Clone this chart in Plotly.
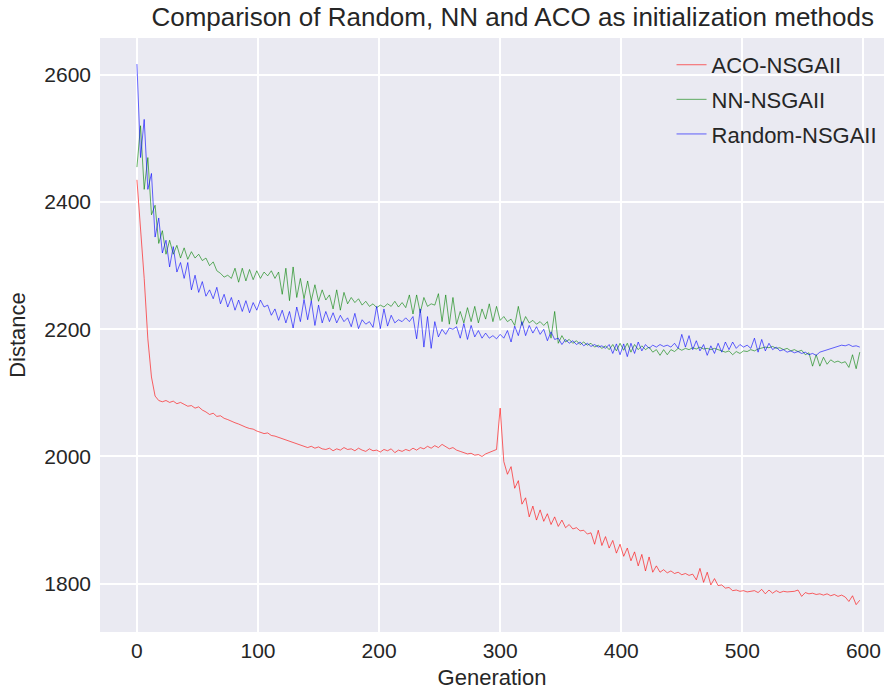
import plotly.graph_objects as go

# generations sampled every 3rd step
generation = list(range(0, 600, 3))

aco_nsgaii = [
    2435, 2360, 2280, 2185, 2125, 2095, 2088, 2086, 2088, 2085,
    2087, 2083, 2085, 2082, 2079, 2080, 2076, 2078, 2073, 2070,
    2066, 2068, 2063, 2064, 2060, 2058, 2055, 2053, 2051, 2048,
    2046, 2044, 2043, 2040, 2038, 2036, 2037, 2033, 2032, 2030,
    2028, 2026, 2024, 2022, 2020, 2018, 2016, 2014, 2016, 2013,
    2015, 2012, 2011, 2013, 2009, 2012, 2010, 2014, 2011, 2012,
    2009, 2013, 2010, 2008, 2012, 2009, 2010, 2007, 2011, 2009,
    2012, 2006, 2010, 2008, 2011, 2009, 2013, 2010, 2014, 2012,
    2016, 2013, 2017, 2014, 2019, 2016, 2012, 2014, 2010, 2008,
    2006, 2004, 2005, 2002, 2003, 2000, 2004, 2006, 2009, 2011,
    2076, 1992, 1972, 1984, 1950, 1962, 1925, 1935, 1905, 1922,
    1900, 1916, 1898, 1910, 1893, 1905, 1890, 1900, 1888, 1893,
    1886, 1888, 1883, 1884, 1878, 1880, 1862, 1884, 1860, 1874,
    1856, 1868, 1848, 1862, 1843, 1856, 1836, 1850, 1828, 1846,
    1820, 1842, 1818, 1828, 1818, 1822, 1817, 1820, 1816, 1818,
    1814, 1816, 1813, 1815, 1806, 1824, 1802, 1818, 1798, 1808,
    1797, 1798, 1793, 1794, 1789, 1790, 1788, 1789, 1787, 1788,
    1789, 1786, 1791, 1784, 1790, 1785, 1789, 1786, 1788, 1787,
    1787, 1788, 1790, 1780, 1786, 1784, 1785, 1783, 1784, 1782,
    1784, 1781, 1783, 1780, 1782, 1779, 1772, 1781, 1767, 1774,
]

nn_nsgaii = [
    2455, 2520, 2420, 2470, 2380, 2395, 2335, 2355, 2318, 2340,
    2318, 2332, 2312, 2328, 2310, 2322, 2312, 2318, 2308, 2312,
    2300, 2306, 2292, 2288, 2282, 2285, 2280, 2296, 2274, 2296,
    2276, 2294, 2278, 2292, 2280, 2290, 2284, 2292, 2280, 2290,
    2255, 2296, 2245, 2298, 2250, 2280, 2248, 2276, 2245, 2270,
    2244, 2262, 2246, 2254, 2232, 2262, 2230, 2258, 2240, 2250,
    2242, 2248, 2238, 2244, 2236, 2240, 2234, 2238, 2235, 2240,
    2236, 2244, 2235, 2242, 2234, 2254, 2224, 2254, 2226, 2250,
    2236, 2240, 2238, 2256, 2212, 2254, 2208, 2250, 2208, 2228,
    2210, 2234, 2212, 2236, 2210, 2232, 2216, 2240, 2212, 2236,
    2214, 2220, 2212, 2216, 2206, 2236, 2206, 2220, 2210, 2214,
    2208, 2212, 2206, 2212, 2186, 2228, 2178, 2190, 2180, 2184,
    2178, 2182, 2176, 2180, 2175, 2178, 2172, 2175, 2170, 2174,
    2168, 2176, 2166, 2178, 2167, 2178, 2164, 2176, 2168, 2174,
    2168, 2172, 2164, 2168, 2159, 2168, 2160, 2168, 2165, 2170,
    2167, 2170, 2168, 2171, 2169, 2172, 2169, 2170, 2168, 2170,
    2168, 2166, 2164, 2166, 2160, 2165, 2162, 2166, 2165, 2168,
    2166, 2169, 2170, 2172, 2171, 2173, 2170, 2171, 2168, 2170,
    2166, 2168, 2165, 2167, 2160, 2163, 2142, 2160, 2142, 2156,
    2145, 2152, 2148, 2150, 2147, 2149, 2140, 2160, 2138, 2164,
]

random_nsgaii = [
    2617, 2470, 2530, 2420, 2445, 2345, 2375, 2320, 2340, 2298,
    2330, 2290, 2305, 2280, 2305, 2262, 2285, 2258, 2275, 2252,
    2262, 2248, 2266, 2240, 2255, 2235, 2250, 2230, 2246, 2228,
    2245, 2226, 2242, 2230, 2246, 2235, 2238, 2222, 2232, 2214,
    2230, 2210, 2228, 2202, 2235, 2212, 2247, 2215, 2245, 2206,
    2238, 2210, 2228, 2212, 2226, 2210, 2222, 2212, 2218, 2204,
    2225, 2201, 2215, 2208, 2212, 2203, 2236, 2201, 2232, 2205,
    2222, 2210, 2215, 2212, 2218, 2212, 2220, 2185, 2232, 2172,
    2220, 2170, 2212, 2188, 2200, 2192, 2202, 2200, 2204, 2186,
    2209, 2184, 2206, 2188, 2198, 2186, 2194, 2186, 2190, 2185,
    2192, 2186, 2198, 2180, 2205, 2190, 2212, 2190, 2206, 2194,
    2204, 2192, 2200, 2182, 2196, 2184, 2186, 2176, 2184, 2178,
    2182, 2176, 2180, 2174, 2178, 2173, 2176, 2172, 2174, 2170,
    2176, 2162, 2177, 2160, 2177, 2157, 2178, 2162, 2180, 2166,
    2176, 2170, 2175, 2172, 2176, 2173, 2175, 2172, 2178, 2170,
    2192, 2172, 2190, 2168, 2182, 2166, 2176, 2159, 2174, 2162,
    2178, 2164, 2180, 2168, 2180, 2170, 2176, 2172, 2175, 2170,
    2186, 2164, 2184, 2166, 2178, 2168, 2172, 2166, 2168, 2164,
    2166, 2163, 2165, 2162, 2164, 2160, 2162, 2159, 2164, 2166,
    2168, 2170, 2172, 2173, 2175, 2174, 2176, 2173, 2174, 2172,
]

x_ticks = [0, 100, 200, 300, 400, 500, 600]
y_ticks = [1800, 2000, 2200, 2400, 2600]

series = [
    ("ACO-NSGAII", aco_nsgaii, "rgba(255,0,0,0.6)"),
    ("NN-NSGAII", nn_nsgaii, "rgba(0,128,0,0.6)"),
    ("Random-NSGAII", random_nsgaii, "rgba(0,0,255,0.6)"),
]

fig = go.Figure()
for name, vals, col in series:
    fig.add_trace(go.Scatter(
        x=generation, y=vals, name=name, mode="lines",
        legendgroup=name,
        line=dict(color=col, width=1)
    ))

fig.update_layout(
    width=887, height=693,
    margin=dict(l=100, r=3, t=38, b=61),
    paper_bgcolor="white",
    plot_bgcolor="#EAEAF2",
    font=dict(family="Liberation Sans, Arial, sans-serif", size=21, color="#262626"),
    title=dict(text="Comparison of Random, NN and ACO as initialization methods",
               x=0.578, xanchor="center", y=0.976, yanchor="middle",
               font=dict(size=26, color="#262626")),
    legend=dict(x=0.729, y=0.99, xanchor="left", yanchor="top",
                bgcolor="rgba(0,0,0,0)", font=dict(size=22),
                tracegroupgap=3),
    showlegend=True,
)

fig.update_xaxes(
    range=[-30.5, 617], tickvals=x_ticks, showgrid=True, gridcolor="white",
    gridwidth=1.5, zeroline=False, showline=False, ticks="",
    title=dict(text="Generation", standoff=8, font=dict(size=22)),
    ticklabelstandoff=4
)
fig.update_yaxes(
    range=[1724, 2658], tickvals=y_ticks, showgrid=True, gridcolor="white",
    gridwidth=1.5, zeroline=False, showline=False, ticks="",
    title=dict(text="Distance", standoff=12, font=dict(size=22)),
    ticklabelstandoff=8
)

# drop the default page margin so the figure sits at the window's corner
fig.write_html("out.html", config={"displayModeBar": False},
               post_script="document.body.style.margin='0';")
